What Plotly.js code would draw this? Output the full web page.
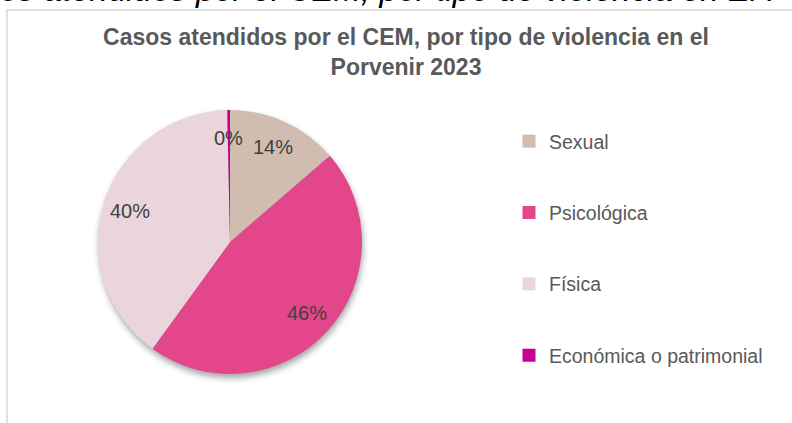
<!DOCTYPE html>
<html>
<head>
<meta charset="utf-8">
<script src="https://cdn.plot.ly/plotly-3.0.1.min.js"></script>
<style>
  html, body { margin: 0; padding: 0; background: #ffffff; }
  #chart { width: 792px; height: 423px; }
  .pielayer .trace { filter: drop-shadow(1px 4px 3px rgba(0,0,0,0.35)); }
</style>
</head>
<body>
<div id="chart"></div>
<script>
// ---- data ----
const categories = ["Sexual", "Psicológica", "Física", "Económica o patrimonial"];
const casos = [41, 139, 119, 1];
const colores = ["#D0BDB0", "#E4468B", "#EAD5DC", "#C8008F"];
const tituloGrafico = "Casos atendidos por el CEM, por tipo de violencia en el<br>Porvenir 2023";
const textoSuperior = "Casos atendidos por el CEM, por tipo de violencia en El Porvenir 2023";

// ---- geometry (px) ----
const W = 792, H = 423;
const cx = 230, cy = 242, R = 132;
const px = v => v / W;
const py = v => 1 - v / H;
const FONT = "Liberation Sans, Arial, sans-serif";

const total = casos.reduce((a, b) => a + b, 0);

// percentage labels placed along each slice's mid angle
const labelAnnotations = [];
let acc = 0;
casos.forEach((v, i) => {
  const mid = (acc + v / 2) / total * 2 * Math.PI;
  acc += v;
  const r = R * 0.79;
  labelAnnotations.push({
    xref: "paper", yref: "paper",
    x: px(cx + r * Math.sin(mid)),
    y: py(cy - r * Math.cos(mid)),
    text: Math.round(v / total * 100) + "%",
    showarrow: false,
    xanchor: "center", yanchor: "middle",
    font: { family: FONT, size: 20, color: "#404040" }
  });
});

const pieTrace = {
  type: "pie",
  labels: categories,
  values: casos,
  sort: false,
  direction: "clockwise",
  rotation: 0,
  marker: { colors: colores, line: { width: 0 } },
  textinfo: "none",
  hoverinfo: "label+percent",
  showlegend: false,
  domain: { x: [px(cx - R), px(cx + R)], y: [py(cy + R), py(cy - R)] }
};

// legend entries (one per category)
const legendTraces = categories.map((c, i) => ({
  type: "scatter",
  mode: "markers",
  x: [null], y: [null],
  name: c,
  legendgroup: "g" + i,
  showlegend: true,
  hoverinfo: "skip",
  marker: { symbol: "square", size: 13, color: colores[i], line: { width: 0 } }
}));

const layout = {
  width: W, height: H,
  margin: { l: 0, r: 0, t: 0, b: 0 },
  paper_bgcolor: "#ffffff",
  plot_bgcolor: "rgba(0,0,0,0)",
  xaxis: { visible: false },
  yaxis: { visible: false },
  title: {
    text: tituloGrafico,
    x: px(406), xanchor: "center",
    y: py(45), yanchor: "top",
    font: { family: FONT, size: 23, weight: "bold", color: "#595959" }
  },
  showlegend: true,
  legend: {
    x: px(509), xanchor: "left",
    y: py(122), yanchor: "top",
    traceorder: "grouped",
    tracegroupgap: 43,
    bgcolor: "rgba(0,0,0,0)",
    font: { family: FONT, size: 19.5, color: "#595959" },
    itemclick: false, itemdoubleclick: false
  },
  shapes: [{
    type: "rect", xref: "paper", yref: "paper",
    x0: px(7), x1: px(W + 20), y0: py(H + 20), y1: py(10),
    line: { color: "#D9D9D9", width: 1.5 },
    fillcolor: "rgba(0,0,0,0)",
    layer: "below"
  }],
  annotations: [{
    xref: "paper", yref: "paper",
    x: px(-61), xanchor: "left",
    y: py(10), yanchor: "bottom",
    text: textoSuperior,
    showarrow: false,
    font: { family: FONT, size: 33, style: "italic", color: "#000000" }
  }].concat(labelAnnotations)
};

Plotly.newPlot("chart", [pieTrace].concat(legendTraces), layout, { displayModeBar: false });
</script>
</body>
</html>
